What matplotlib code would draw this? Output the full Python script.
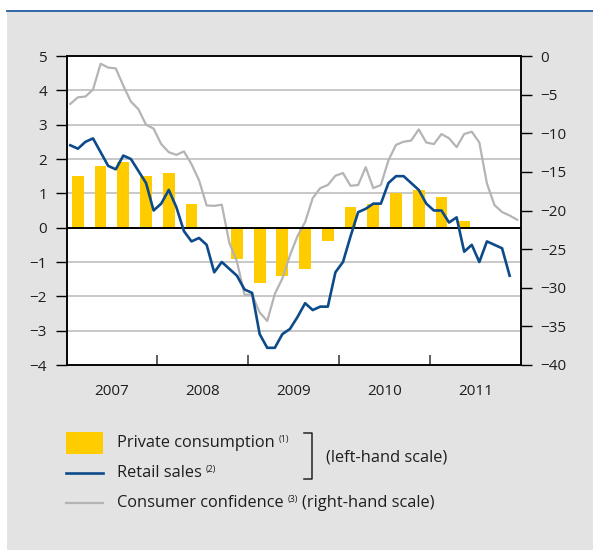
import numpy as np
import matplotlib
matplotlib.use('Agg')
import matplotlib.pyplot as plt
from matplotlib.lines import Line2D
from matplotlib.patches import Rectangle

plt.rcParams['font.family'] = ['Open Sans', 'DejaVu Sans']

# quarterly private consumption, % y/y (left scale)
quarters = ['2007Q1', '2007Q2', '2007Q3', '2007Q4', '2008Q1', '2008Q2', '2008Q3', '2008Q4',
            '2009Q1', '2009Q2', '2009Q3', '2009Q4', '2010Q1', '2010Q2', '2010Q3', '2010Q4',
            '2011Q1', '2011Q2']
consumption = [1.5, 1.8, 1.9, 1.5, 1.6, 0.7, 0.0, -0.9,
               -1.6, -1.4, -1.2, -0.4, 0.6, 0.7, 1.0, 1.1,
               0.9, 0.2]

# monthly retail sales from Jan 2007 (left scale)
retail = [2.4, 2.3, 2.5, 2.6, 2.2, 1.8, 1.7, 2.1, 2.0, 1.65, 1.3, 0.5,
          0.7, 1.1, 0.6, -0.1, -0.4, -0.3, -0.5, -1.3, -1.0, -1.2, -1.4, -1.8,
          -1.9, -3.1, -3.5, -3.5, -3.1, -2.95, -2.6, -2.2, -2.4, -2.3, -2.3, -1.3,
          -1.0, -0.25, 0.45, 0.55, 0.7, 0.7, 1.3, 1.5, 1.5, 1.3, 1.1, 0.7,
          0.5, 0.5, 0.15, 0.3, -0.7, -0.5, -1.0, -0.4, -0.5, -0.6, -1.4]

# monthly consumer confidence from Jan 2007 (right scale)
confidence = [-6.2, -5.35, -5.25, -4.35, -1.0, -1.5, -1.6, -3.85, -5.9, -6.9, -8.9, -9.4,
              -11.4, -12.45, -12.8, -12.35, -14.0, -16.1, -19.35, -19.4, -19.25, -24.2, -26.6, -30.9,
              -30.9, -33.2, -34.3, -30.8, -28.8, -25.8, -23.3, -21.5, -18.4, -17.1, -16.7, -15.5,
              -15.15, -16.8, -16.7, -14.4, -17.1, -16.7, -13.5, -11.5, -11.1, -10.95, -9.5, -11.2,
              -11.4, -10.1, -10.65, -11.8, -10.1, -9.8, -11.2, -16.5, -19.3, -20.2, -20.65, -21.2]

years = [2007, 2008, 2009, 2010, 2011]

YELLOW = '#ffcc00'
BLUE = '#0d4a8a'
GREY = '#b4b4b4'
TXT = '#1e1e1e'
FS = 11
LFS = 11.8

q_x = np.array([int(q[:4]) + (int(q[-1]) - 0.5) / 4 for q in quarters])
m_retail = 2007 + (np.arange(len(retail)) + 0.5) / 12
m_conf = 2007 + (np.arange(len(confidence)) + 0.5) / 12

fig = plt.figure(figsize=(5.93, 5.5), dpi=100)
fig.patch.set_facecolor('white')
fig.patches.append(Rectangle((7 / 593, 0), 1, 1 - 12 / 550, transform=fig.transFigure,
                             facecolor='#e3e3e3', edgecolor='none', zorder=-10))
fig.lines.append(Line2D([7 / 593, 1], [1 - 10.5 / 550] * 2, transform=fig.transFigure,
                        color='#1f5a9c', lw=1.3))

rect = [66.5 / 593, 1 - 365 / 550, (521 - 66.5) / 593, (365 - 56) / 550]
ax = fig.add_axes(rect)
ax.set_facecolor('white')
ax.set_xlim(2007, 2012)
ax.set_ylim(-4, 5)
for v in [-3, -2, -1, 1, 2, 3, 4]:
    ax.axhline(v, color='#b9b9b9', lw=1.1, zorder=0)
ax.bar(q_x, consumption, width=0.13, color=YELLOW, zorder=1)

# consumer confidence on the right-hand scale, above the bars
axr = ax.twinx()
axr.set_ylim(-40, 0)
axr.plot(m_conf, confidence, color=GREY, lw=1.6, zorder=2)

# retail sales on top, sharing the left scale
axb = ax.twinx()
axb.set_ylim(-4, 5)
axb.axis('off')
axb.axhline(0, color='black', lw=1.4, zorder=3)
axb.plot(m_retail, retail, color=BLUE, lw=1.9, zorder=4)

for a in (ax, axr):
    for s in a.spines.values():
        s.set_linewidth(1.1)
        s.set_color('black')

ax.set_yticks(range(-4, 6))
ax.set_yticklabels([str(v).replace('-', '\u2212') for v in range(-4, 6)])
ax.tick_params(axis='y', direction='out', length=8, width=1, pad=6,
               labelsize=FS, labelcolor=TXT)
axr.set_yticks(range(-40, 1, 5))
axr.set_yticklabels([str(v).replace('-', '\u2212') for v in range(-40, 1, 5)])
axr.tick_params(axis='y', direction='out', length=8, width=1, pad=6,
                labelsize=FS, labelcolor=TXT)

ax.set_xticks(years[1:])
ax.set_xticklabels([])
ax.set_xticks([y + 0.5 for y in years], minor=True)
ax.set_xticklabels([str(y) for y in years], minor=True)
ax.tick_params(axis='x', which='major', direction='in', length=7, width=1.1, color='#333333')
ax.tick_params(axis='x', which='minor', length=0, pad=14, labelsize=FS, labelcolor=TXT)

# legend drawn by hand in figure coordinates
def fy(py):
    return 1 - py / 550

def fx(px):
    return px / 593

fig.patches.append(Rectangle((fx(66), fy(454)), fx(37), 22 / 550, transform=fig.transFigure,
                             facecolor=YELLOW, edgecolor='none'))
fig.lines.append(Line2D([fx(66), fx(103)], [fy(473)] * 2, transform=fig.transFigure,
                        color=BLUE, lw=1.9))
fig.lines.append(Line2D([fx(66), fx(103)], [fy(503)] * 2, transform=fig.transFigure,
                        color=GREY, lw=1.6))

labels = [('Private consumption', '(1)', 443),
          ('Retail sales', '(2)', 473),
          ('Consumer confidence', '(3)', 503)]
for text, note, py in labels:
    t = fig.text(fx(117), fy(py), text, fontsize=LFS, color=TXT, va='center', ha='left')
    sup = ax.annotate(note, xy=(1, 0.72), xycoords=t, xytext=(3, 0), textcoords='offset points',
                      fontsize=6.5, color=TXT, va='center', ha='left', annotation_clip=False)
    if note == '(3)':
        ax.annotate('(right-hand scale)', xy=(1, 0.5), xycoords=(sup, t), xytext=(3, 0),
                    textcoords='offset points', fontsize=LFS, color=TXT,
                    va='center', ha='left', annotation_clip=False)

# bracket grouping the left-scale series
bx = [fx(304), fx(312), fx(312), fx(304)]
by = [fy(433), fy(433), fy(479), fy(479)]
fig.lines.append(Line2D(bx, by, transform=fig.transFigure, color='#222222', lw=1.1))
fig.text(fx(326), fy(457), '(left-hand scale)', fontsize=LFS, color=TXT, va='center', ha='left')

fig.savefig('out.png', dpi=100)
